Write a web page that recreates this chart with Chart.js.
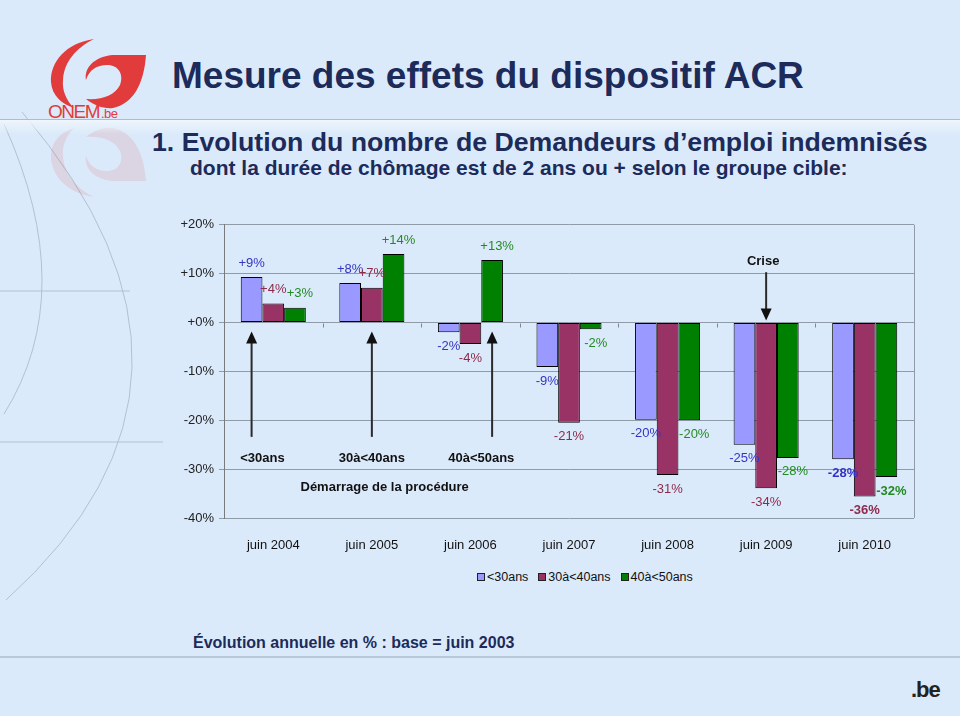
<!DOCTYPE html>
<html lang="fr">
<head>
<meta charset="utf-8">
<title>Mesure des effets du dispositif ACR</title>
<script src="https://cdn.jsdelivr.net/npm/chart.js@4.4.1/dist/chart.umd.min.js"></script>
<style>
  html, body { margin: 0; padding: 0; }
  body {
    width: 960px; height: 716px; position: relative; overflow: hidden;
    background: #dbeafa;
    font-family: "Liberation Sans", Arial, sans-serif;
    color: #1c2b5a;
  }
  .txt { position: absolute; white-space: nowrap; font-weight: bold; line-height: normal; }
  #title { left: 172px; top: 55px; font-size: 37px; }
  #sub1 { left: 152px; top: 127px; font-size: 26.7px; }
  #sub2 { left: 190px; top: 156px; font-size: 21px; }
  #base { left: 193px; top: 634px; font-size: 16px; }
  #be { left: 911px; top: 677px; font-size: 22px; color: #222; letter-spacing: -1px; }
  #header-line {
    position: absolute; left: 0; top: 119px; width: 960px; height: 14px;
    border-top: 1px solid #aebccb;
    background: linear-gradient(#eef5fc, rgba(219,234,250,0));
  }
  #foot-line { position: absolute; left: 0; top: 656px; width: 960px; border-top: 2px solid #b9c7d6; }
  #deco { position: absolute; left: 0; top: 0; }
  #wrap { position: absolute; left: 150px; top: 212px; width: 780px; height: 340px; }
  #legend {
    position: absolute; left: 477px; top: 570px; font-size: 12.5px; color: #111;
    display: flex; align-items: center;
  }
  #legend span.box {
    display: inline-block; width: 6px; height: 6px; border: 1px solid #222; margin-right: 2px;
  }
  #legend span.item { margin-right: 10px; display: inline-flex; align-items: center; }
</style>
</head>
<body>
<svg id="deco" width="960" height="716">
  <path d="M4,124 Q80,292 4,414" fill="none" stroke="#b3c1cf" stroke-width="1"/>
  <path d="M22,112 Q250,380 6,600" fill="none" stroke="#b3c1cf" stroke-width="1"/>
  <line x1="0" y1="291" x2="130" y2="291" stroke="#b3c1cf" stroke-width="1"/>
  <line x1="0" y1="442" x2="163" y2="442" stroke="#b3c1cf" stroke-width="1"/>
  <!-- logo -->
  <g fill="#e23b3b">
    <path d="M94,39 C66,43 50,62 51,82 C52,96 62,104 74,108 C66,100 62,90 63,80 C64,62 76,48 94,39 Z"/>
    <path d="M146,55 L112,55 C94,57 84,68 86,80 C89,70 97,65 107,65 C119,65 124,75 120,85 C115,95 103,100 86,99 C95,106 104,109 113,108 C133,104 144,84 146,55 Z"/>
  </g>
  <text x="48" y="118" font-family="Liberation Sans, Arial" font-size="19" fill="#e23b3b" letter-spacing="-1.5">ONEM</text>
  <text x="101" y="118" font-family="Liberation Sans, Arial" font-size="13" fill="#e23b3b" letter-spacing="-0.5">.be</text>
  <g opacity="0.12" fill="#e23b3b">
    <path d="M94,197 C66,193 50,174 51,154 C52,140 62,132 74,128 C66,136 62,146 63,156 C64,174 76,188 94,197 Z"/>
    <path d="M146,181 L112,181 C94,179 84,168 86,156 C89,166 97,171 107,171 C119,171 124,161 120,151 C115,141 103,136 86,137 C95,130 104,127 113,128 C133,132 144,152 146,181 Z"/>
  </g>
</svg>
<div id="header-line"></div>
<div id="foot-line"></div>

<div class="txt" id="title">Mesure des effets du dispositif ACR</div>
<div class="txt" id="sub1">1. Evolution du nombre de Demandeurs d’emploi indemnisés</div>
<div class="txt" id="sub2">dont la durée de chômage est de 2 ans ou + selon le groupe cible:</div>

<div id="wrap"><canvas id="acrChart" width="780" height="340"></canvas></div>
<div id="legend"></div>

<div class="txt" id="base">Évolution annuelle en % : base = juin 2003</div>
<div class="txt" id="be">.be</div>

<script>
const categories = ['juin 2004', 'juin 2005', 'juin 2006', 'juin 2007', 'juin 2008', 'juin 2009', 'juin 2010'];
const groups = ['<30ans', '30à<40ans', '40à<50ans'];

// bar heights, in %
const under30 = [9.3, 8.1, -2.0, -9.1, -19.9, -25.0, -28.0];
const from30to40 = [3.9, 7.1, -4.4, -20.5, -31.2, -33.9, -35.6];
const from40to50 = [3.0, 14.0, 12.8, -1.4, -20.0, -27.7, -31.6];

// data labels as printed on the chart
const under30Labels = ['+9%', '+8%', '-2%', '-9%', '-20%', '-25%', '-28%'];
const from30to40Labels = ['+4%', '+7%', '-4%', '-21%', '-31%', '-34%', '-36%'];
const from40to50Labels = ['+3%', '+14%', '+13%', '-2%', '-20%', '-28%', '-32%'];

const yTicks = [20, 10, 0, -10, -20, -30, -40];

const barColors = ['#9999ff', '#993366', '#008000'];
const labelColors = ['#3434c4', '#8e2a4a', '#238a23'];

// start of the procedure for each group: [group index, category index]
const procedureStarts = [[0, 0], [1, 1], [2, 2]];
const crisis = [1, 5];

const FONT = '"Liberation Sans", Arial, sans-serif';

// legend
const legendEl = document.getElementById('legend');
legendEl.innerHTML = groups.map((g, i) =>
  `<span class="item"><span class="box" style="background:${barColors[i]}"></span>${g.replace('<', '&lt;')}</span>`
).join('');

function arrow(ctx, x, yFrom, yTip) {
  const dir = yTip > yFrom ? 1 : -1;
  ctx.strokeStyle = '#2a2a2a';
  ctx.fillStyle = '#111';
  ctx.lineWidth = 2;
  ctx.beginPath();
  ctx.moveTo(x, yFrom);
  ctx.lineTo(x, yTip - dir * 10);
  ctx.stroke();
  ctx.beginPath();
  ctx.moveTo(x, yTip);
  ctx.lineTo(x - 5.5, yTip - dir * 12);
  ctx.lineTo(x + 5.5, yTip - dir * 12);
  ctx.closePath();
  ctx.fill();
}

const slideMarks = {
  id: 'slideMarks',
  beforeDatasetsDraw(chart) {
    const { ctx, chartArea, scales: { x, y } } = chart;
    ctx.save();
    // right frame line
    ctx.strokeStyle = '#8f9ca8';
    ctx.lineWidth = 1;
    ctx.beginPath();
    ctx.moveTo(chartArea.right + 0.5, chartArea.top);
    ctx.lineTo(chartArea.right + 0.5, chartArea.bottom);
    ctx.stroke();
    // small tick marks between categories on the zero line
    const y0 = Math.round(y.getPixelForValue(0)) + 0.5;
    ctx.strokeStyle = '#7d8893';
    for (let i = 0; i < categories.length - 1; i++) {
      const xm = Math.round((x.getPixelForValue(i) + x.getPixelForValue(i + 1)) / 2) + 0.5;
      ctx.beginPath();
      ctx.moveTo(xm, y0);
      ctx.lineTo(xm, y0 + 4);
      ctx.stroke();
    }
    ctx.restore();
  },
  afterDatasetsDraw(chart) {
    const { ctx, scales: { x, y } } = chart;
    const allLabels = [under30Labels, from30to40Labels, from40to50Labels];
    ctx.save();
    ctx.textAlign = 'center';
    ctx.textBaseline = 'middle';

    // value labels (green ones sit a little to the right, as in Excel)
    chart.data.datasets.forEach((ds, di) => {
      const meta = chart.getDatasetMeta(di);
      const dx = di === 2 ? 5 : 0;
      meta.data.forEach((bar, i) => {
        const v = ds.data[i];
        const last = i === categories.length - 1;
        ctx.font = (last ? 'bold ' : '') + '13px ' + FONT;
        ctx.fillStyle = labelColors[di];
        ctx.fillText(allLabels[di][i], bar.x + dx, v >= 0 ? bar.y - 14 : bar.y + 14);
      });
    });

    // arrows marking the start of the procedure
    const y0 = y.getPixelForValue(0);
    ctx.font = 'bold 13px ' + FONT;
    procedureStarts.forEach(([g, c]) => {
      const bar = chart.getDatasetMeta(g).data[c];
      arrow(ctx, bar.x, y.getPixelForValue(-23.4), y0 + 9);
      ctx.fillStyle = '#111';
      ctx.fillText(groups[g], (bar.x + x.getPixelForValue(c)) / 2, y.getPixelForValue(-27.8));
    });
    ctx.fillText('Démarrage de la procédure', x.getPixelForValue(1.13), y.getPixelForValue(-33.7));

    // crisis arrow
    const cb = chart.getDatasetMeta(crisis[0]).data[crisis[1]];
    ctx.fillText('Crise', cb.x - 3, y.getPixelForValue(12.5));
    arrow(ctx, cb.x, y.getPixelForValue(10.3), y0 - 2);
    ctx.restore();
  }
};

new Chart(document.getElementById('acrChart'), {
  type: 'bar',
  data: {
    labels: categories,
    datasets: [under30, from30to40, from40to50].map((d, i) => ({
      label: groups[i],
      data: d,
      backgroundColor: barColors[i],
      borderColor: '#000',
      borderWidth: 1,
      borderSkipped: false,
      categoryPercentage: 0.66,
      barPercentage: 1.0
    }))
  },
  options: {
    responsive: false,
    animation: false,
    layout: { padding: { top: 10, right: 16, left: 0, bottom: 0 } },
    plugins: {
      legend: { display: false },
      tooltip: { enabled: false }
    },
    scales: {
      x: {
        grid: { display: false },
        border: { display: false },
        ticks: { color: '#111', font: { family: FONT, size: 13 }, padding: 12 },
        afterFit: s => { s.height = 34; }
      },
      y: {
        min: -40,
        max: 20,
        afterBuildTicks: s => { s.ticks = yTicks.map(v => ({ value: v })); },
        ticks: {
          color: '#222',
          font: { family: FONT, size: 13 },
          padding: 5,
          callback: v => (v >= 0 ? '+' : '') + v + '%'
        },
        grid: { color: '#8f9ca8', tickLength: 5 },
        border: { color: '#7a7a7a' },
        afterFit: s => { s.width = 74; }
      }
    }
  },
  plugins: [slideMarks]
});
</script>
</body>
</html>
